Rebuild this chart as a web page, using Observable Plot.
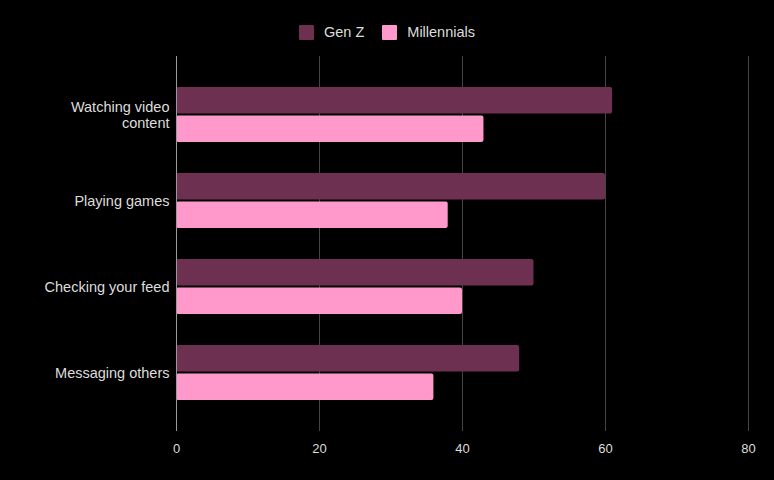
<!DOCTYPE html>
<html>
<head>
<meta charset="utf-8">
<script src="https://cdn.jsdelivr.net/npm/d3@7"></script>
<script src="https://cdn.jsdelivr.net/npm/@observablehq/plot@0.6"></script>
<style>
  html, body { margin: 0; padding: 0; background: #000; }
  body { width: 774px; height: 480px; overflow: hidden; font-family: "Liberation Sans", Arial, sans-serif; }
  #legend { height: 48px; padding-top: 8px; display: flex; justify-content: center; align-items: center; color: #dddddd; font-size: 14.5px; }
  .item { display: flex; align-items: center; margin: 0 9px; }
  .sw { width: 15px; height: 15px; margin-right: 10px; box-sizing: border-box; border-radius: 1px; }
  #chart svg { display: block; }
</style>
</head>
<body>
<div id="legend"></div>
<div id="chart"></div>
<script>
const categories = ["Watching video content", "Playing games", "Checking your feed", "Messaging others"];
const tickLabels = ["Watching video\ncontent", "Playing games", "Checking your feed", "Messaging others"];
const series = ["Gen Z", "Millennials"];
const genZ = [61, 60, 50, 48];
const millennials = [43, 38, 40, 36];
const xTicks = [0, 20, 40, 60, 80];
const colors = ["#6d3050", "#ff99cc"];

const genZData = categories.map((c, i) => ({category: c, value: genZ[i]}));
const millData = categories.map((c, i) => ({category: c, value: millennials[i]}));

const legend = document.getElementById("legend");
series.forEach((s, i) => {
  const item = document.createElement("div");
  item.className = "item";
  const sw = document.createElement("div");
  sw.className = "sw";
  sw.style.background = colors[i];
  const t = document.createElement("span");
  t.textContent = s;
  item.appendChild(sw);
  item.appendChild(t);
  legend.appendChild(item);
});

const chart = Plot.plot({
  width: 774,
  height: 424,
  marginTop: 0,
  marginBottom: 49,
  marginLeft: 176,
  marginRight: 26,
  style: {background: "#000", color: "#dddddd", fontFamily: "'Liberation Sans', Arial, sans-serif", fontSize: "13px"},
  x: {domain: [0, 80]},
  y: {domain: categories, paddingInner: 0.364, paddingOuter: 0.35},
  marks: [
    Plot.gridX(xTicks.slice(1), {stroke: "#444444", strokeOpacity: 1}),
    Plot.barX(genZData, {x: "value", y: "category", fill: colors[0], insetBottom: 28.5, rx: 2}),
    Plot.barX(millData, {x: "value", y: "category", fill: colors[1], insetTop: 28.5, rx: 2}),
    Plot.ruleX([0], {stroke: "#9a9a9a"}),
    Plot.axisX({ticks: xTicks, tickSize: 0, tickPadding: 12, label: null, fontSize: 13}),
    Plot.axisY({tickSize: 0, tickPadding: 7, label: null, fontSize: 14.5, lineHeight: 1.1,
      tickFormat: d => tickLabels[categories.indexOf(d)]})
  ]
});
document.getElementById("chart").appendChild(chart);
</script>
</body>
</html>
